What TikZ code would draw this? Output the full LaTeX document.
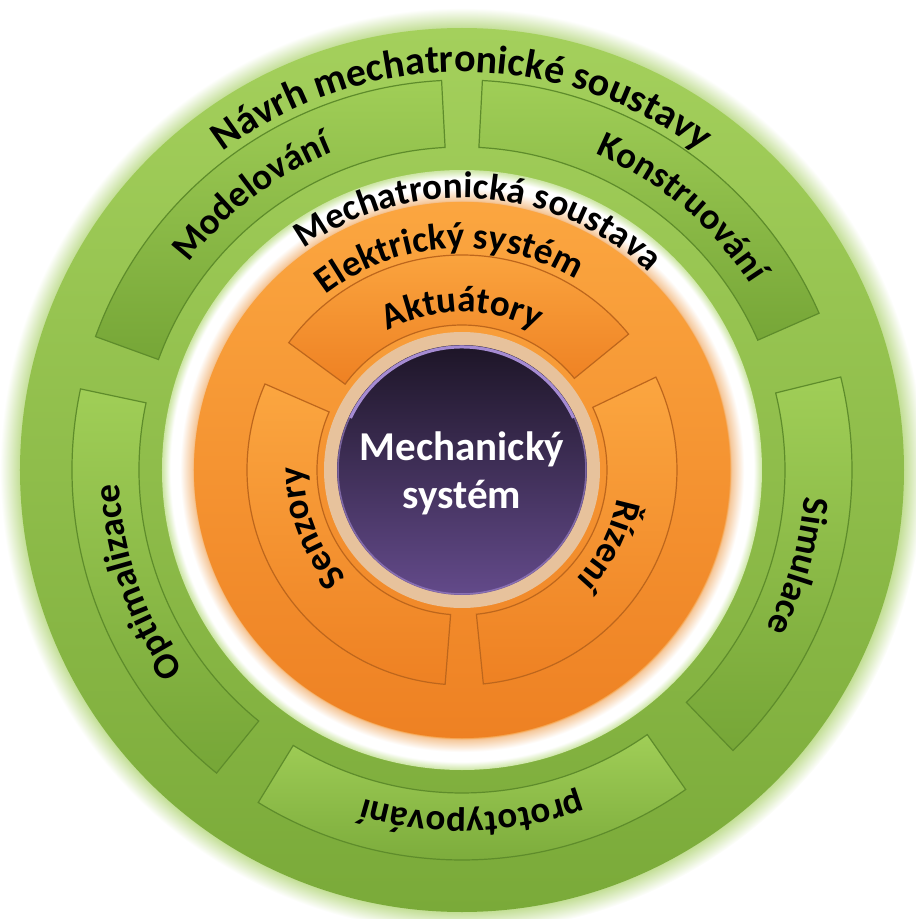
\documentclass[tikz,border=0pt]{standalone}
\usepackage{fontspec}
\setmainfont{Carlito}
\usetikzlibrary{decorations.text}
% soft halos
\pgfdeclareradialshading{greenglow}{\pgfpoint{0bp}{0bp}}{rgb(0bp)=(0.76,0.87,0.58); rgb(23.9bp)=(0.76,0.87,0.58); rgb(25bp)=(1,1,1); rgb(50bp)=(1,1,1)}
\pgfdeclareradialshading{whitering}{\pgfpoint{0bp}{0bp}}{rgb(0bp)=(0.96,0.6,0.22); rgb(22.3bp)=(0.96,0.6,0.22); rgb(22.45bp)=(0.96,0.78,0.6); rgb(23.5bp)=(1,1,1); rgb(24.3bp)=(1,1,1); rgb(25bp)=(0.8,0.9,0.64); rgb(50bp)=(0.8,0.9,0.64)}
\begin{document}
\begin{tikzpicture}[x=1pt,y=1pt,
  greenpart/.style={top color=parttop, bottom color=partbot, draw=greenedge, line width=1.2pt},
  orangepart/.style={top color=orangetop, bottom color=orangebot, draw=orangeedge, line width=1.2pt},
  arclabel/.style={decorate, decoration={text along path, text align=center,
    text={|\fontsize{37}{44}\selectfont\bfseries|#1}}},
  titlelabel/.style={decorate, decoration={text along path, text align=center,
    text={|\fontsize{40}{48}\selectfont\bfseries|#1}}}]
% Define colors
\definecolor{greentop}{HTML}{A4D05C}
\definecolor{greenbot}{HTML}{7AAA39}
\definecolor{greenedge}{HTML}{5E8C2B}
\definecolor{parttop}{HTML}{A0CE57}
\definecolor{partbot}{HTML}{76A637}
\definecolor{orangetop}{HTML}{FBA640}
\definecolor{orangebot}{HTML}{EE8123}
\definecolor{orangeedge}{HTML}{BD661C}
\definecolor{tanring}{HTML}{E7C29C}
\definecolor{purpletop}{HTML}{1D1527}
\definecolor{purplebot}{HTML}{634A8A}
\definecolor{purplerim}{HTML}{A58BD2}
\useasboundingbox (-462,-449) rectangle (454,470);
  %%%%%%%%%%The circles
  %Circles
  \shade[shading=greenglow] (0,0) circle[radius=462];
  \shade[top color=greentop, bottom color=greenbot] (0,0) circle[radius=442];
  \shade[shading=whitering] (0,0) circle[radius=300];
  \shade[top color=orangetop, bottom color=orangebot] (0,0) circle[radius=268];
  \fill[color=tanring] (0,0) circle[radius=138];
  \shade[top color=purpletop, bottom color=purplebot] (0,0) circle[radius=125];
  \draw[purplerim, line width=1.5pt, opacity=.6] (0,0) circle[radius=124];
  \draw[purplerim, line width=3pt] (25:123) arc[start angle=25, end angle=155, radius=123];
  %%%%%%%%%%The parts
  % green ring
  \draw[greenpart] (23.7:390) arc[start angle=23.7, end angle=87, radius=390] -- (87:323) arc[start angle=87, end angle=23.7, radius=323] -- cycle;
  \draw[greenpart] (93:390) arc[start angle=93, end angle=160, radius=390] -- (160:323) arc[start angle=160, end angle=93, radius=323] -- cycle;
  \draw[greenpart] (168:390) arc[start angle=168, end angle=231, radius=390] -- (231:323) arc[start angle=231, end angle=168, radius=323] -- cycle;
  \draw[greenpart] (238.5:390) arc[start angle=238.5, end angle=305, radius=390] -- (305:323) arc[start angle=305, end angle=238.5, radius=323] -- cycle;
  \draw[greenpart] (314:390) arc[start angle=314, end angle=373.8, radius=390] -- (373.8:323) arc[start angle=373.8, end angle=314, radius=323] -- cycle;
  % orange ring
  \draw[orangepart] (39.2:215) arc[start angle=39.2, end angle=143.7, radius=215] -- (143.7:145) arc[start angle=143.7, end angle=39.2, radius=145] -- cycle;
  \draw[orangepart] (156.4:215) arc[start angle=156.4, end angle=265.5, radius=215] -- (265.5:145) arc[start angle=265.5, end angle=156.4, radius=145] -- cycle;
  \draw[orangepart] (275.7:215) arc[start angle=275.7, end angle=385.6, radius=215] -- (385.6:145) arc[start angle=385.6, end angle=275.7, radius=145] -- cycle;
  %Marks
  \path[titlelabel=Návrh mechatronické soustavy] (175:398) arc[start angle=175, end angle=5, radius=398];
  \path[arclabel=Konstruování] (100:343) arc[start angle=100, end angle=0, radius=343];
  \path[arclabel=Modelování] (177.5:343) arc[start angle=177.5, end angle=77.5, radius=343];
  \path[arclabel=Optimalizace] (249:343) arc[start angle=249, end angle=149, radius=343];
  \path[arclabel=prototypování] (321.7:343) arc[start angle=321.7, end angle=221.7, radius=343];
  \path[arclabel=Simulace] (34:343) arc[start angle=34, end angle=-66, radius=343];
  \path[arclabel=Mechatronická soustava] (176:272) arc[start angle=176, end angle=-4, radius=272];
  \path[arclabel=Elektrický systém] (178.5:222) arc[start angle=178.5, end angle=8.5, radius=222];
  \path[arclabel=Aktuátory] (150:158) arc[start angle=150, end angle=30, radius=158];
  \path[arclabel=Senzory] (261:158) arc[start angle=261, end angle=141, radius=158];
  \path[arclabel=Řízení] (33:158) arc[start angle=33, end angle=-87, radius=158];
  \node[text=white, inner sep=0pt, align=center, font=\fontsize{41}{48}\selectfont\bfseries] (mech) at (0,-3) {Mechanický\\systém};
\end{tikzpicture}
\end{document}
